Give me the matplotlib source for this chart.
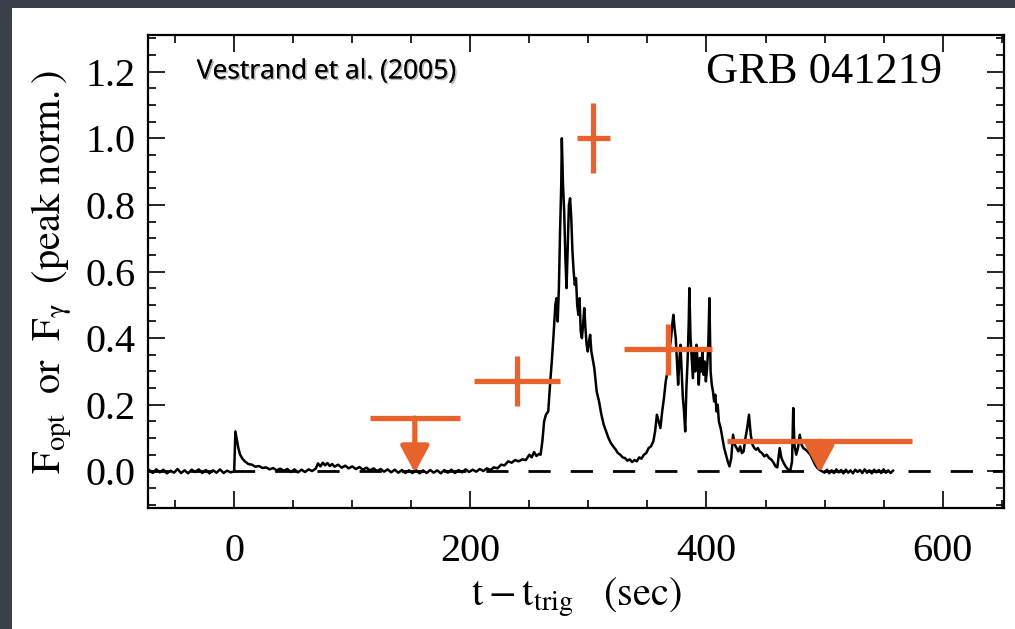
import matplotlib
matplotlib.use("Agg")
import matplotlib.pyplot as plt
import matplotlib.patheffects as pe
from matplotlib.patches import Rectangle
from matplotlib.ticker import MultipleLocator

plt.rcParams["font.family"] = "Liberation Serif"
plt.rcParams["mathtext.fontset"] = "stix"

# gamma-ray light curve (peak normalised)
gamma_t = [-72, -69, -66, -63, -60, -57, -54, -51, -48, -45, -42, -39, -36, -33, -30, -27,
           -24, -21, -18, -15, -12, -9, -6, -3,
           0, 1, 2, 3.5, 5, 7, 9, 12, 15, 18, 21, 24, 27, 30, 33, 36, 39, 42, 45, 48, 51,
           54, 57, 60, 63, 66, 69, 71, 73, 75, 77, 79, 81, 83, 85, 88, 91, 94, 97, 100,
           103, 106, 109, 112, 115, 118, 121, 124, 127, 130, 133, 136, 139, 142, 145, 148,
           151, 154, 157, 160, 163, 166, 169, 172, 175, 178, 181, 184, 187, 190, 193, 196,
           199, 202, 205, 208, 211, 214, 217, 220, 223, 226, 229, 232, 235, 238, 241, 244,
           247, 250, 252, 254, 256, 258, 259.5, 261, 262.5, 264, 266, 267.5, 269, 270.5,
           272, 273, 274, 275, 276, 277, 277.5, 278.5, 279.5, 280.5, 281.5, 282.5, 283.5,
           284.5, 285.5, 286.5, 287.5, 288.5, 289.5, 290.5, 291.5, 292.5, 293.5, 294.5,
           295.5, 296.5, 297.5, 298.5, 299.5, 300.5, 301.5, 302.5, 303.5, 305, 307, 309,
           311, 313, 315, 317, 319, 321, 323, 325, 327, 329, 331, 333, 335, 337, 339, 341,
           343, 345, 347, 349, 351, 353, 355, 356.5, 358, 359.5, 361, 362.5, 364, 365.5,
           367, 368.5, 370, 371, 372, 373, 374, 375, 376, 377, 378, 379, 380, 381, 382,
           383, 384, 385, 385.5, 386.5, 387.5, 388.5, 389.5, 390.5, 391.5, 392.5, 393.5,
           394.5, 395.5, 396.5, 397.5, 398.5, 399.5, 400.5, 401.5, 402.5, 403.5, 404.5,
           405.5, 406.5, 407.5, 408.5, 409.5, 410.5, 412, 413.5, 415, 416.5, 418, 419.5,
           421, 422.5, 424, 425.5, 427, 428.5, 430, 431.5, 433, 434.5, 436, 437.5, 439,
           440.5, 442, 443.5, 445, 447, 449, 451, 453, 455, 457, 458.5, 460, 461, 462,
           463.5, 465, 467, 469, 471, 472.5, 473.5, 474.5, 476, 477.5, 479, 480.5, 482,
           484, 486, 488, 490, 492, 494, 496, 498, 500, 502, 504, 506, 508, 510, 512, 514,
           516, 518, 520, 522, 524, 526, 528, 530, 532, 534, 536, 538, 540, 542, 544, 546,
           548, 550, 552, 554, 556, 558]
gamma_f = [0.004, -0.005, 0.006, -0.003, 0.005, -0.006, 0.002, -0.004, 0.007, -0.005, 0.003,
           -0.006, 0.005, -0.002, 0.006, -0.005, 0.004, -0.006, 0.003, -0.004, 0.006, -0.005,
           0.002, -0.003,
           0.0, 0.12, 0.10, 0.07, 0.05, 0.038, 0.03, 0.022, 0.02, 0.014, 0.016, 0.01, 0.012,
           0.006, 0.010, 0.003, 0.008, 0.002, 0.007, -0.002, 0.006, -0.003, 0.005, -0.002,
           0.006, 0.001, 0.008, 0.024, 0.015, 0.026, 0.018, 0.025, 0.016, 0.022, 0.014,
           0.02, 0.011, 0.017, 0.009, 0.015, 0.007, 0.013, 0.005, 0.011, 0.003, 0.009,
           0.001, 0.007, -0.001, 0.006, -0.003, 0.005, -0.004, 0.004, -0.005, 0.003, -0.005,
           0.004, -0.006, 0.003, -0.005, 0.004, -0.004, 0.003, -0.006, 0.004, -0.004, 0.005,
           -0.005, 0.004, -0.003, 0.006, -0.002, 0.005, -0.001, 0.007, 0.001, 0.009, 0.004,
           0.012, 0.009, 0.02, 0.018, 0.03, 0.026, 0.034, 0.03, 0.036, 0.034, 0.05, 0.042,
           0.058, 0.046, 0.052, 0.05, 0.09, 0.15, 0.17, 0.18, 0.26, 0.33, 0.41, 0.50, 0.52,
           0.45, 0.55, 0.72, 0.86, 1.0, 0.86, 0.78, 0.64, 0.55, 0.68, 0.80, 0.82, 0.76, 0.66,
           0.60, 0.56, 0.58, 0.50, 0.47, 0.52, 0.42, 0.40, 0.44, 0.49, 0.43, 0.38, 0.36,
           0.39, 0.41, 0.36, 0.34, 0.31, 0.24, 0.21, 0.17, 0.14, 0.12, 0.10, 0.085, 0.075,
           0.066, 0.055, 0.05, 0.042, 0.04, 0.032, 0.036, 0.028, 0.034, 0.03, 0.042, 0.038,
           0.05, 0.055, 0.07, 0.075, 0.09, 0.12, 0.17, 0.15, 0.13, 0.18, 0.22, 0.27, 0.30,
           0.36, 0.40, 0.44, 0.47, 0.43, 0.40, 0.33, 0.26, 0.33, 0.38, 0.30, 0.22, 0.18,
           0.12, 0.25, 0.33, 0.45, 0.55, 0.40, 0.34, 0.28, 0.36, 0.30, 0.38, 0.33, 0.26,
           0.34, 0.30, 0.36, 0.29, 0.33, 0.27, 0.31, 0.37, 0.52, 0.30, 0.26, 0.24, 0.21,
           0.23, 0.18, 0.20, 0.15, 0.13, 0.10, 0.07, 0.05, 0.03, 0.015, 0.04, 0.11, 0.08,
           0.07, 0.06, 0.075, 0.055, 0.06, 0.10, 0.13, 0.17, 0.11, 0.08, 0.07, 0.065, 0.07,
           0.06, 0.055, 0.045, 0.05, 0.04, 0.035, 0.025, 0.015, 0.012, 0.04, 0.07, 0.04,
           0.028, 0.015, 0.006, 0.002, 0.03, 0.19, 0.08, 0.05, 0.07, 0.11, 0.08, 0.07,
           0.065, 0.058, 0.05, 0.035, 0.02, 0.01, 0.004, 0.0, -0.004, 0.005, -0.006, 0.003,
           -0.005, 0.006, -0.003, 0.004, -0.006, 0.005, -0.004, 0.003, -0.006, 0.005, -0.002,
           0.004, -0.005, 0.006, -0.004, 0.003, -0.006, 0.005, -0.003, 0.004, -0.005, 0.006,
           -0.004, 0.003, -0.005, 0.002]

# optical detections (RAPTOR)
opt_t = [239.5, 304, 367.5]
opt_terr = [36.5, 14, 37]
opt_f = [0.27, 1.0, 0.366]
opt_ferr = [0.075, 0.105, 0.077]

# optical upper limits
ul_t = [153, 496]
ul_lo = [115, 417]
ul_hi = [191, 574]
ul_f = [0.16, 0.09]

orange = "#E8632B"

fig = plt.figure(figsize=(10.15, 6.29), dpi=100, facecolor="#3b3f49")
fig.patches.append(Rectangle((12 / 1015, 0), 1, 1 - 8 / 629, transform=fig.transFigure,
                             facecolor="white", edgecolor="none", zorder=-10))
ax = fig.add_axes([148 / 1015, 1 - 508 / 629, (1004 - 148) / 1015, (508 - 35) / 629])
ax.patch.set_alpha(0)

ax.axhline(0, color="black", lw=2.0, ls=(0, (8, 7.2)), zorder=1)
ax.plot(gamma_t, gamma_f, color="black", lw=1.8, zorder=2)

ax.errorbar(opt_t, opt_f, xerr=opt_terr, yerr=opt_ferr, fmt="none",
            ecolor=orange, elinewidth=3.8, capsize=0, zorder=3)
for t, lo, hi, f in zip(ul_t, ul_lo, ul_hi, ul_f):
    ax.plot([lo, hi], [f, f], color=orange, lw=3.8, solid_capstyle="butt", zorder=3)
    ax.annotate("", xy=(t, -0.004), xytext=(t, f),
                arrowprops=dict(arrowstyle="-|>,head_length=0.5,head_width=0.27",
                                color=orange, lw=3.8, shrinkA=0, shrinkB=0,
                                mutation_scale=32), zorder=3)

ax.set_xlim(-73, 652)
ax.set_ylim(-0.11, 1.31)
ax.xaxis.set_major_locator(MultipleLocator(200))
ax.xaxis.set_minor_locator(MultipleLocator(50))
ax.yaxis.set_major_locator(MultipleLocator(0.2))
ax.yaxis.set_minor_locator(MultipleLocator(0.05))
ax.yaxis.set_major_formatter(matplotlib.ticker.FormatStrFormatter("%.1f"))
ax.tick_params(which="both", direction="in", top=True, right=True, width=1.2)
ax.tick_params(which="major", length=12, labelsize=29)
ax.tick_params(axis="x", which="major", pad=18)
ax.tick_params(axis="y", which="major", pad=9)
ax.tick_params(which="minor", length=6)
for s in ax.spines.values():
    s.set_linewidth(1.6)

ax.set_xlabel(r"$\mathrm{t - t_{trig}\ \ \ (sec)}$", fontsize=29, labelpad=4)
ax.set_ylabel(r"$\mathrm{F_{opt}\ \ or\ \ F_{\gamma}\ \ (peak\ norm.)}$", fontsize=29, labelpad=8)

ax.text(0.057, 0.922, "Vestrand et al. (2005)", transform=ax.transAxes, fontsize=19,
        family="Open Sans", va="center", ha="left",
        path_effects=[pe.withSimplePatchShadow(offset=(1.2, -1.2), alpha=0.3),
                      pe.Normal()])
ax.text(0.9276, 0.922, "GRB 041219", transform=ax.transAxes, fontsize=32,
        va="center", ha="right")

fig.savefig("out.png", dpi=100, facecolor=fig.get_facecolor())
